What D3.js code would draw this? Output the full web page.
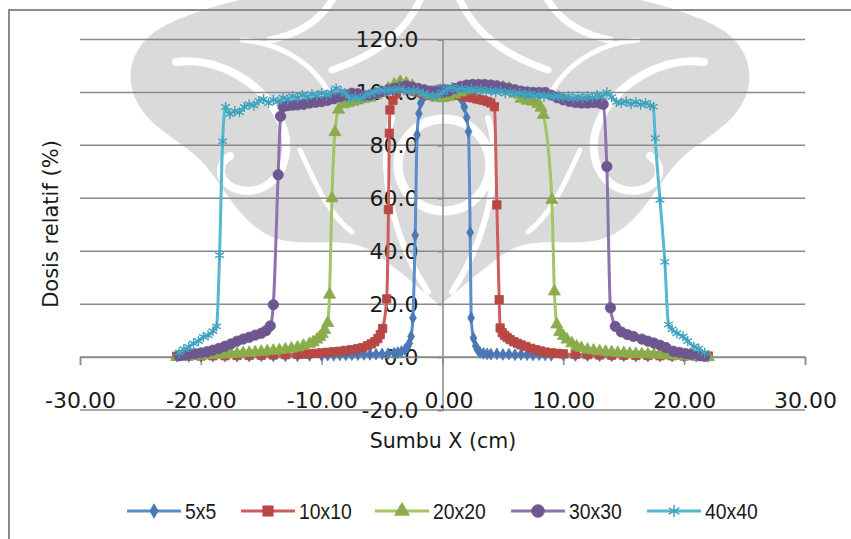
<!DOCTYPE html>
<html>
<head>
<meta charset="utf-8">
<script src="https://cdn.jsdelivr.net/npm/d3@7"></script>
<style>
  html, body { margin: 0; padding: 0; background: #fff; }
  svg { display: block; }
</style>
</head>
<body>
<svg id="chart" width="851" height="539"></svg>
<script>
// Beam profile measurements: relative dose (%) across the X axis (cm) per field size.
const SERIES_NAMES = ["5x5", "10x10", "20x20", "30x30", "40x40"];
const X_TICKS = [-30, -20, -10, 0, 10, 20, 30];
const Y_TICKS = [-20, 0, 20, 40, 60, 80, 100, 120];

const field5x5 = [
  [-22,0.3],[-21,0.3],[-20,0.3],[-19,0.4],[-18,0.4],[-17,0.4],[-16,0.4],[-15,0.5],[-14,0.5],[-13,0.5],
  [-12,0.5],[-11,0.6],[-10,0.6],[-9.5,0.7],[-9,0.7],[-8.5,0.8],[-8,0.8],[-7.5,0.9],[-7,0.9],[-6.5,1.0],
  [-6,1.0],[-5.5,1.1],[-5,1.2],[-4.5,1.3],[-4,1.5],[-3.7,1.7],[-3.4,2.1],[-3.1,2.8],[-2.9,3.8],[-2.75,5.2],
  [-2.6,7.8],[-2.45,14.8],[-2.26,46],[-2.1,84],[-1.95,92],[-1.8,96],[-1.6,98],[-1.4,99],[-1.2,99.6],[-1,100],
  [-0.8,100.3],[-0.6,100.6],[-0.4,100.8],[-0.2,101],[0,101],[0.2,101],[0.4,100.8],[0.6,100.6],[0.8,100.3],[1,100],
  [1.2,99.5],[1.4,98.6],[1.6,97.2],[1.8,94.5],[2.0,90.5],[2.15,85.2],[2.29,47.1],[2.37,14.8],[2.56,7.2],[2.75,4.2],
  [2.9,2.8],[3.1,1.8],[3.4,1.4],[3.7,1.2],[4,1.1],[4.5,1.2],[5,1.0],[5.5,1.1],[6,0.9],[6.5,1.0],
  [7,0.9],[7.5,0.8],[8,0.9],[8.5,0.8],[9,0.7],[10,0.7],[11,0.6],[12,0.6],[13,0.5],[14,0.5],
  [15,0.5],[16,0.4],[17,0.4],[18,0.4],[19,0.4],[20,0.3],[21,0.3],[22,0.3]
];

const field10x10 = [
  [-22,0.3],[-21,0.4],[-20,0.4],[-19,0.5],[-18,0.5],[-17,0.6],[-16,0.6],[-15,0.7],[-14,0.8],[-13,0.9],
  [-12,1.0],[-11.5,1.1],[-11,1.3],[-10.5,1.4],[-10,1.6],[-9.5,1.8],[-9,2.0],[-8.5,2.2],[-8,2.5],[-7.5,2.8],
  [-7,3.2],[-6.6,3.6],[-6.2,4.3],[-5.9,5.0],[-5.6,5.8],[-5.35,7.0],[-5.15,8.5],[-4.95,10.8],[-4.62,22],[-4.47,55.7],
  [-4.4,84.6],[-4.35,93.4],[-4.1,97],[-3.8,99.5],[-3.5,101.6],[-3.2,102],[-2.9,101.8],[-2.6,101],[-2.3,100.5],[-2,100],
  [-1.7,99.6],[-1.4,99.2],[-1.1,99],[-0.8,98.8],[-0.5,98.6],[-0.2,98.5],[0.1,98.5],[0.4,98.6],[0.7,98.8],[1,99],
  [1.3,99],[1.6,98.8],[1.9,98.5],[2.2,98.2],[2.5,98],[2.8,97.6],[3.1,97.3],[3.4,97],[3.7,96.6],[4.0,96],
  [4.3,94.6],[4.5,57.5],[4.69,21.7],[4.77,11],[4.95,9.2],[5.15,8.2],[5.35,7.4],[5.6,6.6],[5.9,5.8],[6.2,5.2],
  [6.5,4.6],[6.9,4.0],[7.3,3.3],[7.7,2.8],[8.1,2.3],[8.5,1.9],[9,1.6],[9.5,1.4],[10,1.2],[11,1.0],
  [12,0.9],[13,0.8],[14,0.7],[15,0.7],[16,0.6],[17,0.6],[18,0.5],[19,0.5],[20,0.4],[21,0.4],[22,0.4]
];

const field20x20 = [
  [-22,0.0],[-21.5,0.2],[-21,0.3],[-20.5,0.4],[-20,0.5],[-19.5,0.7],[-19,0.8],[-18.5,0.9],[-18,1.0],[-17.5,1.2],
  [-17,1.3],[-16.5,1.5],[-16,1.6],[-15.5,1.8],[-15,2.0],[-14.5,2.2],[-14,2.4],[-13.5,2.6],[-13,2.9],[-12.5,3.2],
  [-12,3.6],[-11.5,4.3],[-11,5.0],[-10.7,5.6],[-10.4,6.6],[-10.15,7.6],[-9.95,8.7],[-9.75,10.2],[-9.5,12.9],[-9.35,23.6],
  [-9.15,60],[-8.9,85],[-8.6,93.5],[-8.2,95.5],[-7.8,96],[-7.4,96.5],[-7,97],[-6.5,97.5],[-6,98],[-5.5,99],
  [-5,100],[-4.5,101.5],[-4,103],[-3.5,104],[-3,103.5],[-2.5,102.5],[-2,101],[-1.5,100],[-1,99],[-0.5,98],
  [0,97.8],[0.5,98.5],[1,99.2],[1.5,100],[2,100.8],[2.5,101.3],[3,101.5],[3.5,101.6],[4,101.8],[4.5,102],
  [5,102],[5.5,101.5],[6,99.5],[6.5,97.6],[7,96.9],[7.5,96.5],[7.9,95.6],[8.15,94.2],[8.35,91.5],[9.05,59.4],
  [9.26,24.8],[9.46,12.3],[9.7,9.5],[10,8],[10.3,6.6],[10.7,5.2],[11.1,4],[11.5,3.4],[12,2.8],[12.5,2.5],
  [13,2.2],[13.5,2.0],[14,1.8],[14.5,1.6],[15,1.5],[15.5,1.3],[16,1.2],[16.5,1.1],[17,1.0],[17.5,0.9],
  [18,0.8],[18.5,0.7],[19,0.6],[19.5,0.5],[20,0.4],[20.5,0.3],[21,0.2],[21.5,0.1],[22,0.0]
];

const field30x30 = [
  [-21.8,0.5],[-21.4,0.8],[-21,1.0],[-20.5,1.3],[-20,1.6],[-19.5,2.0],[-19,2.6],[-18.5,3.3],[-18,4.1],[-17.5,5.0],
  [-17,6.0],[-16.5,6.8],[-16,7.5],[-15.5,8.3],[-15,9.0],[-14.6,10.0],[-14.25,11.8],[-14.0,19.8],[-13.6,68.9],[-13.4,91],
  [-13.2,94.6],[-12.8,95],[-12.4,95.2],[-12,95.3],[-11.5,95.5],[-11,96],[-10.5,96.3],[-10,96.5],[-9.5,97],[-9,97.6],
  [-8.5,98.3],[-8,99],[-7.5,99.7],[-7,99.5],[-6.5,98.8],[-6,99],[-5.5,99.7],[-5,100.3],[-4.5,101],[-4,101.5],
  [-3.5,102],[-3,102.5],[-2.5,102],[-2,101.5],[-1.5,101],[-1,100.5],[-0.5,100],[0,100],[0.5,100.5],[1,101.5],
  [1.5,102.3],[2,102.8],[2.5,103],[3,103],[3.5,103],[4,102.8],[4.5,102.5],[5,102],[5.5,101.5],[6,101],
  [6.5,100.5],[7,100.2],[7.5,100],[8,100],[8.5,100],[9,99],[9.5,98],[10,97.2],[10.5,96.6],[11,96.2],
  [11.5,96],[12,96],[12.5,96.2],[13,96],[13.3,95.5],[13.6,72],[13.9,18.6],[14.3,11.6],[14.8,9.5],[15.3,8.5],
  [15.8,7.8],[16.5,6.8],[17,6.0],[17.5,5.3],[18,4.5],[18.5,3.6],[19.1,2.2],[19.6,1.8],[20.1,1.4],[20.6,1.0],
  [21.3,0.5],[21.7,0.3]
];

const field40x40 = [
  [-21.8,1.6],[-21.4,3.0],[-21.0,3.8],[-20.6,5.2],[-20.2,6.0],[-19.8,7.6],[-19.4,8.2],[-19.0,9.8],[-18.7,11.6],[-18.45,38.5],
  [-18.2,81.5],[-17.95,94.5],[-17.6,91.8],[-17.2,93.0],[-16.8,92.5],[-16.4,94.5],[-16.0,95.5],[-15.6,95.0],[-15.2,96.8],[-14.8,97.5],
  [-14.4,96.0],[-14.0,97.2],[-13.6,96.5],[-13.2,98.0],[-12.8,97.4],[-12.4,98.6],[-12.0,98.0],[-11.6,99.0],[-11.2,98.4],[-10.8,99.4],
  [-10.4,98.8],[-10.0,99.8],[-9.6,99.0],[-9.2,100.0],[-8.8,101.5],[-8.4,100.5],[-8.0,99.5],[-7.6,97.5],[-7.2,98.3],[-6.8,97.6],
  [-6.4,98.8],[-6.0,99.6],[-5.6,100.2],[-5.2,101],[-4.8,100.5],[-4.4,101.2],[-4.0,100.6],[-3.6,101.5],[-3.2,100.8],[-2.8,100.2],
  [-2.4,100.8],[-2.0,100.2],[-1.6,99.6],[-1.2,99.0],[-0.8,98.5],[-0.4,99.0],[0.0,100.0],[0.4,101.2],[0.8,102.0],[1.2,101.0],
  [1.6,101.6],[2.0,100.8],[2.4,101.4],[2.8,100.6],[3.2,101.2],[3.6,100.4],[4.0,100.8],[4.4,100.0],[4.8,100.6],[5.2,99.6],
  [5.6,100.2],[6.0,99.4],[6.4,99.8],[6.8,99.0],[7.2,99.6],[7.6,98.6],[8.0,99.2],[8.4,98.4],[8.8,99.0],[9.2,98.2],
  [9.6,98.8],[10.0,98.0],[10.4,98.6],[10.8,97.8],[11.2,98.4],[11.6,97.8],[12.0,98.6],[12.4,98.0],[12.8,99.0],[13.2,98.4],
  [13.6,100.0],[14.0,98.2],[14.4,96.4],[14.8,96.0],[15.2,96.6],[15.6,95.6],[16.0,96.4],[16.4,95.4],[16.8,96.0],[17.2,95.0],
  [17.45,94.6],[17.6,82.7],[18.0,59.4],[18.4,36.0],[18.7,12.3],[19.0,10.5],[19.4,9.0],[19.9,7.8],[20.3,6.0],[20.8,4.0],
  [21.2,3.2],[21.7,1.6]
];

const SERIES_VALUES = [field5x5, field10x10, field20x20, field30x30, field40x40];
const LINE_COLORS   = ["#5b8ccb", "#cc5f5c", "#a5c466", "#8c73ad", "#55b7d0"];
const MARK_COLORS   = ["#4a78b4", "#b84845", "#8aac4a", "#6e5690", "#3fa2be"];
const MARK_SYMBOLS  = [d3.symbolDiamond, d3.symbolSquare, d3.symbolTriangle, d3.symbolCircle, d3.symbolAsterisk];
const MARK_SIZES    = [40, 70, 64, 84, 72];

const svg = d3.select("#chart");
const W = 851, H = 539;
svg.append("rect").attr("width", W).attr("height", H).attr("fill", "#fff");

// Decorative background ornament: one half is drawn, then mirrored about x = 440
const ornament = svg.append("g").attr("class", "ornament");
const GRAY = "#dadada";
function ornamentHalf(g) {
  g.append("path").attr("fill", GRAY)
    .attr("d", "M440,305 C420,290 396,266 370,250 C340,234 300,250 270,236 C240,222 226,190 206,166 " +
               "C186,142 150,130 136,100 C122,70 136,40 166,25 C200,8 240,0 262,-5 L440,-5 Z");
  const white = (d, w) => g.append("path").attr("d", d).attr("fill", "none")
    .attr("stroke", "#fff").attr("stroke-width", w).attr("stroke-linecap", "round");
  white("M176,62 C220,56 270,86 284,130 C294,166 270,196 240,190 C220,186 214,166 230,156", 8);
  white("M242,40 C275,42 312,60 330,95", 5);
  white("M335,-5 C322,20 300,34 270,40", 7);
  white("M420,0 C402,40 362,60 332,70", 7);
  white("M392,118 C376,170 394,240 428,292", 6);
  white("M300,150 C318,190 330,215 352,232", 5);
}
ornamentHalf(ornament.append("g"));
ornamentHalf(ornament.append("g").attr("transform", "translate(880,0) scale(-1,1)"));
ornament.append("circle").attr("cx", 444).attr("cy", 165).attr("r", 46)
  .attr("fill", "none").attr("stroke", "#fff").attr("stroke-width", 9);

// Chart area border
svg.append("rect").attr("x", 9).attr("y", 10).attr("width", 900).attr("height", 600)
  .attr("fill", "none").attr("stroke", "#8c8c8c").attr("stroke-width", 2);

const x = d3.scaleLinear().domain([-30, 30]).range([80, 805]);
const y = d3.scaleLinear().domain([-20, 120]).range([410, 39.5]);

// Horizontal gridlines
svg.append("g").selectAll("line").data(Y_TICKS).join("line")
  .attr("x1", x(-30)).attr("x2", x(30))
  .attr("y1", d => y(d)).attr("y2", d => y(d))
  .attr("stroke", "#8a8a8a").attr("stroke-width", 1.5);

// Vertical axis crossing at x = 0
const yAxis = d3.axisLeft(y).tickValues(Y_TICKS).tickFormat(d => d.toFixed(1)).tickSize(5).tickPadding(19);
const gy = svg.append("g").attr("transform", `translate(${x(0)},0)`).call(yAxis);
gy.select(".domain").attr("stroke", "#8a8a8a").attr("stroke-width", 1.5);
gy.selectAll(".tick line").attr("stroke", "#8a8a8a").attr("stroke-width", 1.5);
gy.selectAll(".tick text").attr("font-family", "DejaVu Sans").attr("font-size", 22).attr("fill", "#1a1a1a");

// Horizontal axis crossing at y = 0, labels sitting at the bottom of the plot
const xAxis = d3.axisBottom(x).tickValues(X_TICKS).tickFormat(d => d.toFixed(2)).tickSize(8).tickPadding(27);
const gx = svg.append("g").attr("transform", `translate(0,${y(0)})`).call(xAxis);
gx.select(".domain").attr("stroke", "#8a8a8a").attr("stroke-width", 1.5);
gx.selectAll(".tick line").attr("stroke", "#8a8a8a").attr("stroke-width", 1.5);
gx.selectAll(".tick text").attr("font-family", "DejaVu Sans").attr("font-size", 22).attr("fill", "#1a1a1a");
gx.selectAll(".tick").filter(d => d === 0).select("text").attr("dx", 6);

// Series: smoothed line plus a marker at every measured point
const line = d3.line().x(d => x(d[0])).y(d => y(d[1])).curve(d3.curveMonotoneX);
SERIES_VALUES.forEach((pts, i) => {
  const g = svg.append("g").attr("class", "series");
  g.append("path").datum(pts).attr("d", line)
    .attr("fill", "none").attr("stroke", LINE_COLORS[i]).attr("stroke-width", 3)
    .attr("stroke-linejoin", "round");
  const sym = d3.symbol().type(MARK_SYMBOLS[i]).size(MARK_SIZES[i]);
  const isStroke = MARK_SYMBOLS[i] === d3.symbolAsterisk;
  g.selectAll("path.mark").data(pts).join("path").attr("class", "mark")
    .attr("transform", d => `translate(${x(d[0])},${y(d[1])})`)
    .attr("d", sym)
    .attr("fill", isStroke ? "none" : MARK_COLORS[i])
    .attr("stroke", MARK_COLORS[i])
    .attr("stroke-width", isStroke ? 1.4 : 0.8);
});

// Axis titles
svg.append("text").attr("transform", "translate(51,224) rotate(-90)")
  .attr("text-anchor", "middle").attr("dominant-baseline", "central")
  .attr("font-family", "DejaVu Sans").attr("font-size", 21).attr("fill", "#1a1a1a")
  .text("Dosis relatif (%)");
svg.append("text").attr("x", 443).attr("y", 448)
  .attr("text-anchor", "middle")
  .attr("font-family", "DejaVu Sans").attr("font-size", 20.5).attr("fill", "#1a1a1a")
  .text("Sumbu X (cm)");

// Legend
const LEGEND_X = [127, 241, 375, 511, 647];
const legendY = 511;
const lg = svg.append("g").attr("class", "legend");
SERIES_NAMES.forEach((name, i) => {
  const x0 = LEGEND_X[i];
  lg.append("line").attr("x1", x0).attr("x2", x0 + 54).attr("y1", legendY).attr("y2", legendY)
    .attr("stroke", LINE_COLORS[i]).attr("stroke-width", 3);
  const isStroke = MARK_SYMBOLS[i] === d3.symbolAsterisk;
  lg.append("path").attr("transform", `translate(${x0 + 27},${legendY})`)
    .attr("d", d3.symbol().type(MARK_SYMBOLS[i]).size(MARK_SIZES[i] * 1.5)())
    .attr("fill", isStroke ? "none" : MARK_COLORS[i])
    .attr("stroke", MARK_COLORS[i]).attr("stroke-width", isStroke ? 1.4 : 0.8);
  lg.append("text").attr("transform", `translate(${x0 + 58},${legendY}) scale(0.88,1)`)
    .attr("dominant-baseline", "central")
    .attr("font-family", "Liberation Sans").attr("font-size", 22).attr("fill", "#1a1a1a")
    .text(name);
});
</script>
</body>
</html>
